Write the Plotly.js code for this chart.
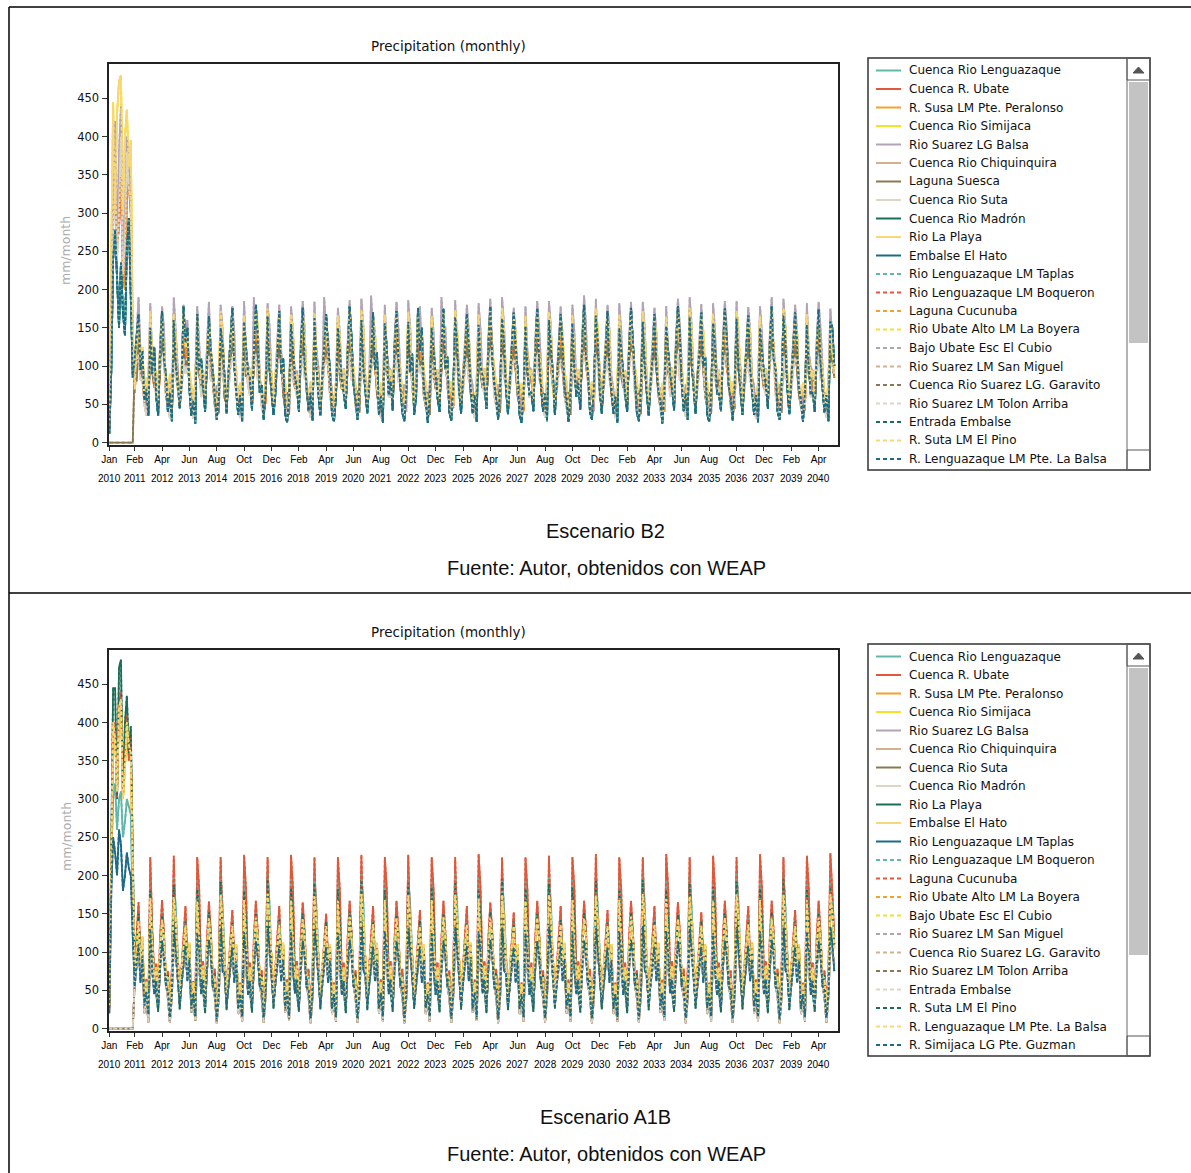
<!DOCTYPE html>
<html><head><meta charset="utf-8">
<script src="https://cdn.plot.ly/plotly-3.0.1.min.js"></script>
<style>html,body{margin:0;padding:0;background:#fff}#chart{width:1191px;height:1173px}</style>
</head><body><div id="chart"></div>
<script>
// ---------- names / categories ----------
const chartTitle = "Precipitation (monthly)";
const yAxisTitle = "mm/month";
const captionsB2 = ["Escenario B2", "Fuente: Autor, obtenidos con WEAP"];
const captionsA1B = ["Escenario A1B", "Fuente: Autor, obtenidos con WEAP"];
const namesB2 = ["Cuenca Rio Lenguazaque","Cuenca R. Ubate","R. Susa LM Pte. Peralonso","Cuenca Rio Simijaca","Rio Suarez LG Balsa","Cuenca Rio Chiquinquira","Laguna Suesca","Cuenca Rio Suta","Cuenca Rio Madrón","Rio La Playa","Embalse El Hato","Rio Lenguazaque LM Taplas","Rio Lenguazaque LM Boqueron","Laguna Cucunuba","Rio Ubate Alto LM La Boyera","Bajo Ubate Esc El Cubio","Rio Suarez LM San Miguel","Cuenca Rio Suarez LG. Garavito","Rio Suarez LM Tolon Arriba","Entrada Embalse","R. Suta LM El Pino","R. Lenguazaque LM Pte. La Balsa"];
const namesA1B = ["Cuenca Rio Lenguazaque","Cuenca R. Ubate","R. Susa LM Pte. Peralonso","Cuenca Rio Simijaca","Rio Suarez LG Balsa","Cuenca Rio Chiquinquira","Cuenca Rio Suta","Cuenca Rio Madrón","Rio La Playa","Embalse El Hato","Rio Lenguazaque LM Taplas","Rio Lenguazaque LM Boqueron","Laguna Cucunuba","Rio Ubate Alto LM La Boyera","Bajo Ubate Esc El Cubio","Rio Suarez LM San Miguel","Cuenca Rio Suarez LG. Garavito","Rio Suarez LM Tolon Arriba","Entrada Embalse","R. Suta LM El Pino","R. Lenguazaque LM Pte. La Balsa","R. Simijaca LG Pte. Guzman"];
const seriesColors = ["#62b7a9","#e0583a","#f2a12c","#f4e12a","#b3a3b6","#d5b08e","#8a7852","#ddd5c6","#1c6d58","#f7d77a","#1d6a86"];
const tickDates = ["2010-01-01","2011-02-01","2012-04-01","2013-06-01","2014-08-01","2015-10-01","2016-12-01","2018-02-01","2019-04-01","2020-06-01","2021-08-01","2022-10-01","2023-12-01","2025-02-01","2026-04-01","2027-06-01","2028-08-01","2029-10-01","2030-12-01","2032-02-01","2033-04-01","2034-06-01","2035-08-01","2036-10-01","2037-12-01","2039-02-01","2040-04-01"];
const tickMonths = ["Jan","Feb","Apr","Jun","Aug","Oct","Dec","Feb","Apr","Jun","Aug","Oct","Dec","Feb","Apr","Jun","Aug","Oct","Dec","Feb","Apr","Jun","Aug","Oct","Dec","Feb","Apr"];
const tickYears = ["2010","2011","2012","2013","2014","2015","2016","2018","2019","2020","2021","2022","2023","2025","2026","2027","2028","2029","2030","2032","2033","2034","2035","2036","2037","2039","2040"];
const yTicks = [0,50,100,150,200,250,300,350,400,450];

// ---------- monthly values, Jan 2010 .. Dec 2040 (mm/month) ----------
// Escenario B2
const b2A = [
12,95,240,278,215,150,235,170,140,255,293,200,
85,110,140,168,95,120,55,70,35,150,90,125,
60,35,120,172,110,88,40,65,28,160,105,70,
45,80,178,130,150,70,35,55,25,168,95,110,
70,40,105,165,120,95,60,30,58,150,130,75,
38,92,130,176,100,70,36,62,27,158,118,90,
85,42,115,180,140,65,75,30,70,165,95,60,
36,65,125,172,90,110,38,26,62,155,122,85,
72,40,118,176,105,72,41,65,29,162,100,64,
35,88,128,168,125,95,37,27,60,150,120,80,
64,44,120,178,138,76,55,30,72,160,98,70,
38,78,110,170,95,118,36,60,26,156,124,62,
80,42,124,172,110,74,39,28,68,158,92,116,
36,60,176,120,150,70,55,26,62,150,118,84,
58,40,122,175,96,112,40,29,70,164,130,68,
38,86,116,168,128,70,38,62,27,154,100,88,
74,44,126,178,110,76,58,30,72,162,134,70,
37,82,118,170,126,95,36,26,62,152,96,62,
66,41,120,176,104,74,40,64,28,160,128,90,
36,84,112,168,130,70,57,27,64,156,98,60,
78,43,128,180,112,92,40,30,70,166,132,68,
38,76,120,172,98,70,38,60,26,150,118,86,
62,40,124,176,134,96,39,28,68,158,100,66,
35,80,114,168,102,68,56,25,62,152,120,88,
70,42,126,178,140,76,41,64,30,164,104,70,
38,88,118,170,100,112,37,27,64,156,124,64,
64,41,122,175,136,74,58,29,70,162,96,68,
36,82,116,166,98,68,36,62,26,150,120,90,
76,44,128,178,110,96,41,30,72,166,134,70,
37,80,118,170,128,70,56,27,64,154,98,62,
66,40,120,174,104,72,39,62,28,158,150,100];
const b2B = [
30,240,445,300,430,472,480,300,400,435,360,395,
150,70,130,160,105,125,62,85,52,172,110,88,
95,55,125,165,118,80,58,90,48,168,140,70,
50,98,170,125,140,92,75,50,80,165,115,86,
92,58,118,162,122,98,62,52,84,172,146,70,
52,95,128,168,110,94,58,78,48,166,120,84,
96,56,122,170,155,78,63,53,86,175,118,90,
50,88,126,164,112,95,80,49,60,168,144,83,
90,54,120,168,150,72,61,80,51,170,116,86,
49,92,130,160,110,92,57,47,79,166,140,70,
97,56,124,172,120,99,80,52,64,174,150,88,
51,90,118,162,146,72,58,78,48,167,112,84,
95,55,126,166,116,97,61,51,83,171,147,70,
50,94,168,130,142,93,78,48,60,165,115,83,
96,56,124,170,118,99,62,80,52,173,149,88,
52,90,120,164,147,74,59,49,81,168,112,84,
97,58,128,172,122,100,82,53,64,176,151,89,
50,92,122,162,145,72,58,78,48,166,114,83,
95,55,125,168,118,97,61,51,84,171,147,70,
49,90,118,160,146,93,80,47,60,167,112,82,
96,58,130,174,120,100,63,80,52,175,150,88,
51,92,121,164,147,74,59,49,81,168,116,84,
94,54,126,168,118,97,82,51,62,172,147,86,
49,90,119,160,144,72,57,78,47,165,112,82,
97,56,128,172,124,100,63,53,86,176,151,70,
52,92,122,165,148,95,80,49,60,169,115,84,
95,55,125,169,118,98,62,80,51,172,148,87,
50,88,118,161,145,72,58,48,79,166,112,82,
97,58,130,174,124,100,82,53,62,176,151,89,
51,92,121,164,147,74,59,78,49,168,114,84,
94,55,125,168,118,97,61,51,83,150,120,95];
const b2C = [
20,150,300,330,260,280,350,220,200,320,340,300,
120,65,110,140,90,105,55,75,45,140,95,72,
80,50,105,145,120,70,50,68,42,138,115,88,
48,82,140,110,125,75,66,40,68,135,100,72,
85,52,102,142,100,80,52,44,70,142,120,60,
49,80,110,146,118,68,49,70,41,136,96,86,
82,50,106,148,126,81,70,45,52,145,124,75,
48,78,108,140,96,77,50,42,67,138,100,71,
84,52,104,146,123,66,51,72,43,141,121,88,
47,80,112,138,98,75,48,40,65,135,96,69,
86,54,107,149,127,82,72,45,54,146,125,76,
49,78,103,141,96,70,50,68,42,139,118,71,
84,52,109,145,124,80,52,44,70,142,98,86,
48,80,140,108,118,76,70,41,52,136,116,70,
86,53,106,147,100,81,53,72,45,144,123,75,
49,76,104,140,120,66,50,42,67,139,96,71,
87,54,111,149,128,82,72,46,54,147,126,76,
48,80,105,139,96,76,49,70,41,136,116,88,
84,52,108,146,124,66,52,44,70,142,98,74,
47,78,102,138,119,76,70,40,52,137,117,69,
86,54,112,150,100,82,53,72,45,147,125,76,
49,80,105,141,120,66,50,42,67,139,96,86,
84,51,108,145,124,79,72,43,52,141,121,73,
47,78,103,138,96,75,48,70,40,135,115,69,
87,54,111,149,128,82,54,46,72,147,100,76,
50,80,106,142,121,66,70,42,52,140,119,88,
84,52,108,146,98,80,52,72,44,142,122,74,
48,78,103,139,118,76,49,41,66,136,96,70,
86,54,112,150,127,66,72,45,54,147,125,76,
49,80,105,141,98,77,50,70,42,139,118,71,
84,51,108,145,124,79,52,43,69,130,110,85];
const b2D = [
40,180,330,420,260,380,440,250,300,400,360,330,
130,75,140,190,120,90,75,40,85,182,110,80,
90,55,130,178,150,70,50,80,38,190,145,95,
50,92,180,140,160,85,68,36,82,178,120,82,
95,58,125,184,118,92,52,75,40,180,148,80,
52,90,135,178,146,70,70,37,80,185,116,100,
96,56,190,140,150,92,53,41,84,182,152,84,
50,88,128,180,120,86,72,37,60,178,146,78,
94,55,132,185,150,70,52,76,40,184,118,100,
49,90,190,150,142,85,70,36,80,176,142,76,
97,56,130,186,122,92,53,41,84,188,152,84,
51,89,192,145,146,70,72,37,60,180,118,98,
95,55,134,184,150,90,52,76,40,186,150,82,
50,90,128,178,120,85,70,36,80,176,142,76,
96,56,190,150,152,72,53,41,62,186,120,100,
52,89,130,180,146,87,74,38,80,182,146,78,
97,56,136,188,124,92,54,76,42,190,154,84,
50,90,128,176,144,70,70,36,60,178,118,98,
95,55,134,185,150,90,52,40,82,185,150,82,
49,88,126,178,120,86,72,37,80,180,144,76,
96,56,138,192,154,72,53,76,41,188,120,100,
51,90,130,180,147,87,70,38,62,182,146,78,
94,55,134,184,122,90,52,40,82,184,150,82,
49,89,126,176,144,70,72,36,79,178,118,98,
97,56,136,188,154,92,54,76,42,190,154,84,
52,91,130,181,120,87,70,38,60,182,146,79,
95,55,134,185,151,72,52,40,82,185,120,100,
50,88,126,177,145,85,74,36,79,178,142,76,
97,56,138,190,124,92,53,76,41,188,152,84,
51,90,130,180,147,70,70,38,62,182,118,98,
94,55,134,184,150,90,52,40,82,175,140,100];
const b2E = [
25,120,280,350,240,300,400,220,260,380,330,320,
110,95,105,115,82,85,50,35,60,110,105,80,
60,82,95,112,108,62,45,32,58,105,84,75,
55,68,110,90,100,78,44,31,80,108,104,60,
62,84,92,114,80,82,46,33,60,110,85,77,
58,69,98,112,104,60,44,32,57,106,100,74,
61,86,96,116,82,83,47,34,80,112,106,60,
56,68,97,110,103,78,44,31,56,105,82,74,
60,84,94,113,84,81,46,33,59,109,103,62,
55,68,100,108,101,60,43,31,78,104,98,73,
63,86,97,117,82,83,47,34,61,113,84,79,
57,69,93,111,104,79,44,32,57,107,101,60,
60,84,98,114,80,81,46,33,80,110,104,77,
56,69,108,90,101,62,44,31,57,105,82,74,
61,86,96,116,110,82,47,34,60,112,105,60,
57,68,94,110,82,79,45,32,80,107,101,75,
62,86,100,117,111,62,47,34,61,114,84,79,
56,69,95,109,102,77,44,31,56,105,99,60,
60,84,97,114,82,81,46,33,80,110,104,77,
55,68,92,108,103,60,44,31,57,106,82,73,
62,86,101,118,111,83,47,34,61,113,106,60,
57,69,95,111,82,79,45,32,80,107,101,75,
59,84,98,113,108,62,46,33,59,109,84,77,
55,68,93,108,101,77,43,31,56,104,99,60,
62,86,100,117,82,83,47,34,80,114,107,79,
57,70,96,112,105,60,45,32,58,108,82,75,
60,84,98,114,108,81,46,33,59,110,104,60,
56,68,93,109,80,77,44,31,80,105,99,73,
62,86,101,118,111,62,47,34,61,113,84,79,
57,69,95,111,104,79,45,32,57,107,101,60,
59,84,98,113,82,81,46,33,80,105,100,90];
const b2F = [
0,0,0,0,0,0,0,0,0,0,0,0,
0,105,80,128,95,82,52,70,40,124,90,76,
78,52,100,130,116,60,48,66,37,122,108,90,
50,84,126,100,108,76,62,36,64,120,88,74,
80,54,98,128,95,80,49,68,38,124,110,58,
51,82,104,130,112,60,47,36,62,120,86,88,
82,55,100,132,96,81,64,38,66,126,114,76,
50,80,102,126,112,62,47,66,36,120,88,71,
80,53,99,129,94,79,49,37,64,123,111,88,
49,82,106,124,110,60,64,35,61,118,86,70,
84,56,101,133,96,82,50,68,39,127,114,76,
51,80,98,127,113,62,47,36,62,121,88,90,
82,54,103,130,94,80,64,38,65,124,112,74,
50,82,124,100,108,60,47,66,36,119,86,71,
84,55,100,132,118,81,50,38,66,126,113,88,
51,80,99,126,94,62,64,36,63,121,88,72,
84,56,105,134,120,82,51,68,39,128,115,77,
50,82,100,125,94,60,47,35,62,119,86,90,
82,54,102,130,116,80,64,38,65,124,112,74,
49,80,97,124,96,62,47,66,36,120,88,70,
84,56,106,134,119,82,50,39,66,127,114,88,
51,82,100,127,94,60,64,36,63,121,86,72,
82,53,102,129,116,79,49,68,37,123,111,74,
49,80,98,124,96,62,46,35,61,118,88,90,
84,56,105,133,120,82,64,39,67,128,115,77,
52,82,101,128,94,60,48,66,37,122,86,73,
82,54,102,130,116,80,49,38,65,124,112,88,
50,80,98,125,96,62,64,35,62,119,88,71,
84,56,106,134,119,82,50,68,39,127,114,76,
51,82,100,127,94,60,48,36,63,121,86,90,
82,53,102,129,116,79,64,37,64,115,105,85];
// Escenario A1B
const a1A = [
30,300,445,445,300,472,482,300,400,435,360,395,
235,70,110,150,90,105,35,50,20,180,120,60,
45,22,92,148,118,58,70,14,55,188,110,80,
25,62,100,140,85,100,26,48,16,182,140,55,
50,20,88,152,122,56,72,12,52,192,115,82,
24,60,96,138,88,98,25,46,15,180,142,54,
48,21,92,150,120,58,70,13,55,195,112,84,
26,64,98,142,86,102,26,50,16,184,144,56,
46,22,90,150,121,57,68,13,54,190,114,80,
25,62,97,140,88,100,25,48,15,182,141,55,
50,20,89,153,123,56,72,12,52,194,116,84,
24,60,95,139,86,98,25,46,15,181,143,54,
47,22,93,149,119,58,70,14,55,190,112,82,
26,64,99,141,88,102,26,50,16,185,144,56,
48,21,90,151,121,57,68,13,54,192,115,80,
25,62,96,139,86,100,25,48,15,182,142,55,
50,20,88,152,122,56,72,12,52,195,116,84,
24,60,96,140,88,98,25,46,15,183,143,54,
46,22,92,150,120,58,70,14,55,190,112,82,
26,64,99,142,86,102,26,50,16,185,145,56,
48,21,90,151,121,57,68,13,54,193,115,80,
25,62,97,139,88,100,25,48,15,182,142,55,
50,20,89,152,122,56,72,12,52,194,116,84,
24,60,95,140,86,98,25,46,15,181,143,54,
47,22,93,149,119,58,70,14,55,190,112,82,
26,64,98,141,88,102,26,50,16,185,144,56,
48,21,90,151,121,57,68,13,54,192,115,80,
25,62,96,139,86,100,25,48,15,183,142,55,
50,20,88,152,122,56,72,12,52,195,116,84,
24,60,96,140,88,98,25,46,15,183,143,54,
46,22,92,150,120,58,70,14,55,185,150,110];
const a1B = [
25,250,380,400,300,420,440,300,360,410,350,380,
200,60,120,165,95,110,40,65,30,224,130,70,
85,40,118,168,125,68,75,28,78,226,120,95,
42,80,124,160,90,105,40,62,30,224,182,70,
88,38,116,166,128,66,78,27,76,224,125,96,
41,82,122,155,92,104,39,60,29,227,180,69,
86,39,118,167,126,67,76,28,77,224,122,94,
42,80,124,160,90,106,40,64,30,227,182,70,
88,38,117,165,128,66,78,27,76,224,125,96,
41,82,120,150,92,104,39,60,29,224,180,69,
86,39,118,167,126,67,76,28,77,227,122,94,
42,80,123,160,90,106,40,64,30,224,182,70,
88,38,116,167,128,66,78,27,76,227,125,96,
41,82,122,155,92,104,39,60,29,224,180,69,
86,39,118,167,126,67,76,28,77,224,122,94,
42,80,124,160,90,106,40,64,30,228,182,70,
88,38,117,165,128,66,78,27,76,224,125,96,
41,82,121,152,92,104,39,60,29,224,180,69,
86,39,118,167,126,67,76,28,77,226,122,94,
42,80,124,160,90,106,40,64,30,224,182,70,
88,38,116,167,128,66,78,27,76,228,125,96,
41,82,122,155,92,104,39,60,29,224,180,69,
86,39,118,167,126,67,76,28,77,224,122,94,
42,80,123,160,90,106,40,64,30,228,182,70,
88,38,117,165,128,66,78,27,76,224,125,96,
41,82,121,152,92,104,39,60,29,226,180,69,
86,39,118,167,126,67,76,28,77,224,122,94,
42,80,124,160,90,106,40,64,30,228,182,70,
88,38,116,167,128,66,78,27,76,224,125,96,
41,82,122,155,92,104,39,60,29,226,180,69,
86,39,118,167,126,67,76,28,77,229,178,120];
const a1C = [
20,180,250,230,200,260,240,180,200,230,210,200,
120,55,85,110,60,95,30,48,18,130,75,45,
62,30,80,115,92,55,50,15,48,128,98,70,
32,60,84,108,62,90,30,46,17,125,102,45,
64,28,78,116,96,54,52,14,46,132,74,72,
31,58,82,106,60,88,29,45,16,126,98,44,
62,29,80,114,94,55,50,15,48,134,104,70,
33,60,85,108,62,90,30,47,17,127,76,46,
64,28,79,115,95,54,52,14,46,130,101,72,
31,58,83,106,60,89,29,45,16,125,98,44,
62,29,80,116,96,55,50,15,48,134,76,70,
32,60,84,107,62,90,30,47,17,127,100,45,
64,28,78,114,94,54,52,14,46,131,101,72,
31,58,82,107,60,89,29,45,16,126,76,44,
62,29,80,115,95,55,50,15,48,133,103,70,
33,60,85,108,62,90,30,47,17,127,100,46,
64,28,79,116,96,54,52,14,46,132,76,72,
31,58,83,106,60,88,29,45,16,125,98,44,
62,29,80,114,94,55,50,15,48,133,104,70,
32,60,84,108,62,90,30,47,17,127,76,45,
64,28,78,115,95,54,52,14,46,131,101,72,
31,58,82,106,60,89,29,45,16,126,98,44,
62,29,80,116,96,55,50,15,48,134,76,70,
33,60,85,107,62,90,30,47,17,127,100,46,
64,28,79,114,94,54,52,14,46,131,101,72,
31,58,83,107,60,89,29,45,16,125,76,44,
62,29,80,115,95,55,50,15,48,133,103,70,
32,60,84,108,62,90,30,47,17,127,100,45,
64,28,78,116,96,54,52,14,46,132,76,72,
31,58,82,106,60,88,29,45,16,126,98,44,
62,29,80,114,94,55,50,15,48,133,110,75];
const a1D = [
30,220,300,320,260,300,310,250,270,300,290,280,
150,50,100,150,80,118,32,58,22,200,120,60,
72,36,98,152,115,60,65,20,62,198,158,85,
38,74,104,144,78,110,32,56,22,195,125,60,
70,34,96,150,118,58,66,19,60,202,158,88,
37,72,102,142,80,108,31,55,21,196,122,59,
74,35,98,152,116,60,64,20,62,204,162,86,
38,74,104,144,78,110,32,56,22,196,124,60,
70,34,96,150,118,58,66,19,60,200,158,88,
37,72,101,140,80,108,31,55,21,196,122,59,
74,35,98,153,117,60,64,20,62,204,162,86,
38,74,103,144,78,110,32,56,22,195,124,60,
70,34,96,151,118,58,66,19,60,201,158,88,
37,72,102,142,80,108,31,55,21,196,122,59,
74,35,98,152,116,60,64,20,62,203,162,86,
38,74,104,144,78,110,32,56,22,197,124,60,
70,34,96,150,118,58,66,19,60,202,158,88,
37,72,101,141,80,108,31,55,21,196,122,59,
74,35,98,152,116,60,64,20,62,202,162,86,
38,74,103,144,78,110,32,56,22,196,124,60,
70,34,96,151,118,58,66,19,60,203,158,88,
37,72,102,142,80,108,31,55,21,196,122,59,
74,35,98,153,117,60,64,20,62,204,162,86,
38,74,104,144,78,110,32,56,22,196,124,60,
70,34,96,150,118,58,66,19,60,201,158,88,
37,72,101,141,80,108,31,55,21,197,122,59,
74,35,98,152,116,60,64,20,62,202,162,86,
38,74,103,144,78,110,32,56,22,196,124,60,
70,34,96,151,118,58,66,19,60,204,158,88,
37,72,102,142,80,108,31,55,21,197,122,59,
74,35,98,152,116,60,64,20,62,205,165,110];
const a1E = [
30,260,400,380,310,420,430,300,340,400,370,360,
180,60,105,140,85,120,35,62,25,170,110,65,
80,40,102,142,118,68,66,24,68,172,138,90,
42,78,108,135,84,112,36,60,26,166,108,65,
82,38,100,144,120,66,68,23,66,175,138,92,
41,80,106,134,86,110,35,58,25,168,110,64,
80,39,102,145,119,68,66,24,68,176,142,90,
42,78,108,136,84,112,36,60,26,168,108,65,
82,38,100,143,120,66,68,23,66,173,138,92,
41,80,105,134,86,110,35,58,25,167,110,64,
80,39,102,146,119,68,66,24,68,176,142,90,
42,78,107,136,84,112,36,60,26,168,108,65,
82,38,100,144,120,66,68,23,66,174,138,92,
41,80,106,134,86,110,35,58,25,168,110,64,
80,39,102,145,119,68,66,24,68,175,142,90,
42,78,108,136,84,112,36,60,26,169,108,65,
82,38,100,144,120,66,68,23,66,175,138,92,
41,80,105,134,86,110,35,58,25,167,110,64,
80,39,102,145,119,68,66,24,68,175,142,90,
42,78,107,136,84,112,36,60,26,168,108,65,
82,38,100,144,120,66,68,23,66,174,138,92,
41,80,106,134,86,110,35,58,25,168,110,64,
80,39,102,146,119,68,66,24,68,176,142,90,
42,78,108,136,84,112,36,60,26,169,108,65,
82,38,100,143,120,66,68,23,66,173,138,92,
41,80,105,134,86,110,35,58,25,167,110,64,
80,39,102,145,119,68,66,24,68,175,142,90,
42,78,107,136,84,112,36,60,26,168,108,65,
82,38,100,144,120,66,68,23,66,175,138,92,
41,80,106,134,86,110,35,58,25,168,110,64,
80,39,102,145,119,68,66,24,68,176,150,105];
const a1F = [
0,0,0,0,0,0,0,0,0,0,0,0,
0,62,82,100,70,95,20,40,8,106,75,52,
55,30,78,102,96,58,40,8,42,108,98,70,
33,60,84,97,68,91,21,38,10,103,78,51,
56,27,75,105,99,55,42,7,39,111,97,72,
31,58,81,95,66,89,19,36,9,104,76,49,
54,29,79,104,98,57,40,8,43,110,101,70,
33,60,83,97,68,92,21,38,10,103,78,51,
56,28,76,105,99,55,42,7,40,111,97,72,
31,58,81,96,66,90,19,36,9,104,76,49,
54,29,78,104,97,57,40,8,42,110,101,70,
32,60,82,98,68,92,20,38,9,103,78,50,
56,27,76,105,98,56,42,7,39,111,98,72,
31,58,80,95,66,90,19,36,9,105,76,49,
54,30,79,103,97,57,40,8,42,109,100,70,
33,60,83,98,68,92,21,38,10,104,78,51,
56,28,76,104,99,55,42,7,40,111,97,72,
31,58,80,96,66,90,19,36,9,105,76,49,
54,29,78,103,96,57,40,8,42,109,100,70,
32,60,82,99,68,92,20,38,9,104,78,50,
56,27,75,105,98,56,42,7,40,110,98,72,
31,58,81,96,66,89,19,36,9,105,76,49,
54,29,78,104,97,57,40,8,42,110,101,70,
33,60,82,98,68,93,21,38,10,103,78,51,
56,28,76,104,98,55,42,7,40,111,97,72,
31,58,80,95,66,90,19,36,9,105,76,49,
54,29,79,103,97,57,40,8,42,109,100,70,
32,60,83,98,68,92,20,38,9,104,78,50,
56,27,76,105,99,56,42,7,39,110,98,72,
31,58,81,96,66,90,19,36,9,105,76,49,
54,29,78,103,97,57,40,8,42,109,100,85];

// which value list each legend entry is drawn from
const dataB2 = [b2A,b2C,b2C,b2B,b2D,b2E,b2F,b2E,b2A,b2B,b2A, b2A,b2C,b2C,b2B,b2D,b2E,b2F,b2E,b2A,b2B,b2A];
const dataA1B = [a1D,a1B,a1E,a1E,a1F,a1F,a1F,a1F,a1A,a1E,a1C, a1D,a1B,a1E,a1E,a1F,a1F,a1F,a1F,a1A,a1E,a1C];

// ---------- build ----------
const W = 1191, H = 1173;
const px = v => v / W;
const py = v => 1 - v / H;
const months = [];
for (let y = 2010; y <= 2040; y++) for (let m = 1; m <= 12; m++) months.push(y + "-" + String(m).padStart(2, "0") + "-01");

const dashes = ["3px,2px","2px,3px","4px,2px"];
const traces = [];
function addSeries(names, data, xa, ya) {
  names.forEach((n, i) => {
    traces.push({
      type: "scatter", mode: "lines", x: months, y: data[i], xaxis: xa, yaxis: ya,
      name: n, showlegend: false, hoverinfo: "skip",
      line: {color: seriesColors[i % 11], width: 1.8, dash: i >= 11 ? dashes[i % 3] : "solid"}
    });
  });
}
addSeries(namesB2, dataB2, "x", "y");
addSeries(namesA1B, dataA1B, "x2", "y2");

const shapes = [], annotations = [];
const line = (x0, y0, x1, y1, color, width, dash) => shapes.push({type: "line", xref: "paper", yref: "paper", x0: px(x0), y0: py(y0), x1: px(x1), y1: py(y1), line: {color, width, dash: dash || "solid"}});
const rect = (x0, y0, x1, y1, lc, lw, fill) => shapes.push({type: "rect", xref: "paper", yref: "paper", x0: px(x0), y0: py(y0), x1: px(x1), y1: py(y1), line: {color: lc, width: lw}, fillcolor: fill || "rgba(0,0,0,0)"});
const text = (t, x, y, size, color, fam, opts) => annotations.push(Object.assign({text: t, xref: "paper", yref: "paper", x: px(x), y: py(y), showarrow: false, xanchor: "center", yanchor: "middle", font: {family: fam || "DejaVu Sans", size, color}}, opts || {}));

// page / table borders
line(9, 7, 9, 1173, "#000", 1.5);
line(9, 7, 1191, 7, "#000", 1.5);
line(9, 593, 1191, 593, "#000", 1.5);

function panel(off, names, captions, xa) {
  text(chartTitle, 448, 46 + off, 13.5, "#111");
  text(yAxisTitle, 66, 251 + off, 12.5, "#aaaaaa", "DejaVu Sans", {textangle: -90});
  tickDates.forEach((d, i) => annotations.push({text: tickYears[i], xref: xa, yref: "paper", x: d, y: py(478 + off), showarrow: false, xanchor: "center", yanchor: "middle", font: {family: "Liberation Sans", size: 10, color: "#000"}}));
  text(captions[0], 605.5, 531 + off, 20, "#111", "Liberation Sans");
  text(captions[1], 606, 568 + off, 20, "#111", "Liberation Sans");
  const top = 58 + off, bot = 470 + off;
  rect(868, top, 1150, bot, "#333", 1.5);
  line(1127, top, 1127, bot, "#666", 1);
  rect(1127, top, 1150, top + 22, "#555", 1);
  shapes.push({type: "path", xref: "paper", yref: "paper", path: `M ${px(1133)} ${py(top + 15)} L ${px(1138.5)} ${py(top + 9)} L ${px(1144)} ${py(top + 15)} Z`, fillcolor: "#555", line: {color: "#555", width: 1}});
  const thumbEnd = off === 0 ? 343 : 955 - 586;
  rect(1129, top + 24, 1148, thumbEnd + off, "rgba(0,0,0,0)", 0, "#c3c3c3");
  rect(1127, bot - 20, 1150, bot, "#555", 1);
  names.forEach((n, i) => {
    const yy = 70.5 + off + i * 18.5;
    line(876, yy, 901, yy, seriesColors[i % 11], 2, i >= 11 ? "4px,3px" : "solid");
    text(n, 907, yy, 12, "#111", "DejaVu Sans", {xanchor: "left"});
  });
}
panel(0, namesB2, captionsB2, "x");
panel(586, namesA1B, captionsA1B, "x2");

const xRange = ["2009-12-19", "2041-01-20"];
function xAxis() {
  return {domain: [px(108.5), px(837.5)], type: "date", range: xRange, tickmode: "array", tickvals: tickDates, ticktext: tickMonths, tickangle: 0,
    ticks: "outside", ticklen: 4, tickcolor: "#333", tickfont: {family: "Liberation Sans", size: 10, color: "#000"},
    showline: true, mirror: true, linecolor: "#222", linewidth: 2, showgrid: false, zeroline: false, fixedrange: true};
}
function yAxis(top, bottom) {
  return {domain: [py(bottom), py(top)], range: [-3.2, 494.4], tickmode: "array", tickvals: yTicks, ticks: "outside", ticklen: 5, tickcolor: "#333",
    tickfont: {family: "DejaVu Sans", size: 11.5, color: "#111"}, showline: true, mirror: true, linecolor: "#222", linewidth: 2,
    showgrid: false, zeroline: false, fixedrange: true};
}
const layout = {
  width: W, height: H, margin: {l: 0, r: 0, t: 0, b: 0}, paper_bgcolor: "#fff", plot_bgcolor: "#fff", showlegend: false, hovermode: false,
  xaxis: Object.assign(xAxis(), {anchor: "y"}),
  yaxis: Object.assign(yAxis(64.3, 445), {anchor: "x"}),
  xaxis2: Object.assign(xAxis(), {anchor: "y2"}),
  yaxis2: Object.assign(yAxis(650.3, 1031), {anchor: "x2"}),
  shapes, annotations
};
Plotly.newPlot("chart", traces, layout, {staticPlot: true, displayModeBar: false});
</script></body></html>
